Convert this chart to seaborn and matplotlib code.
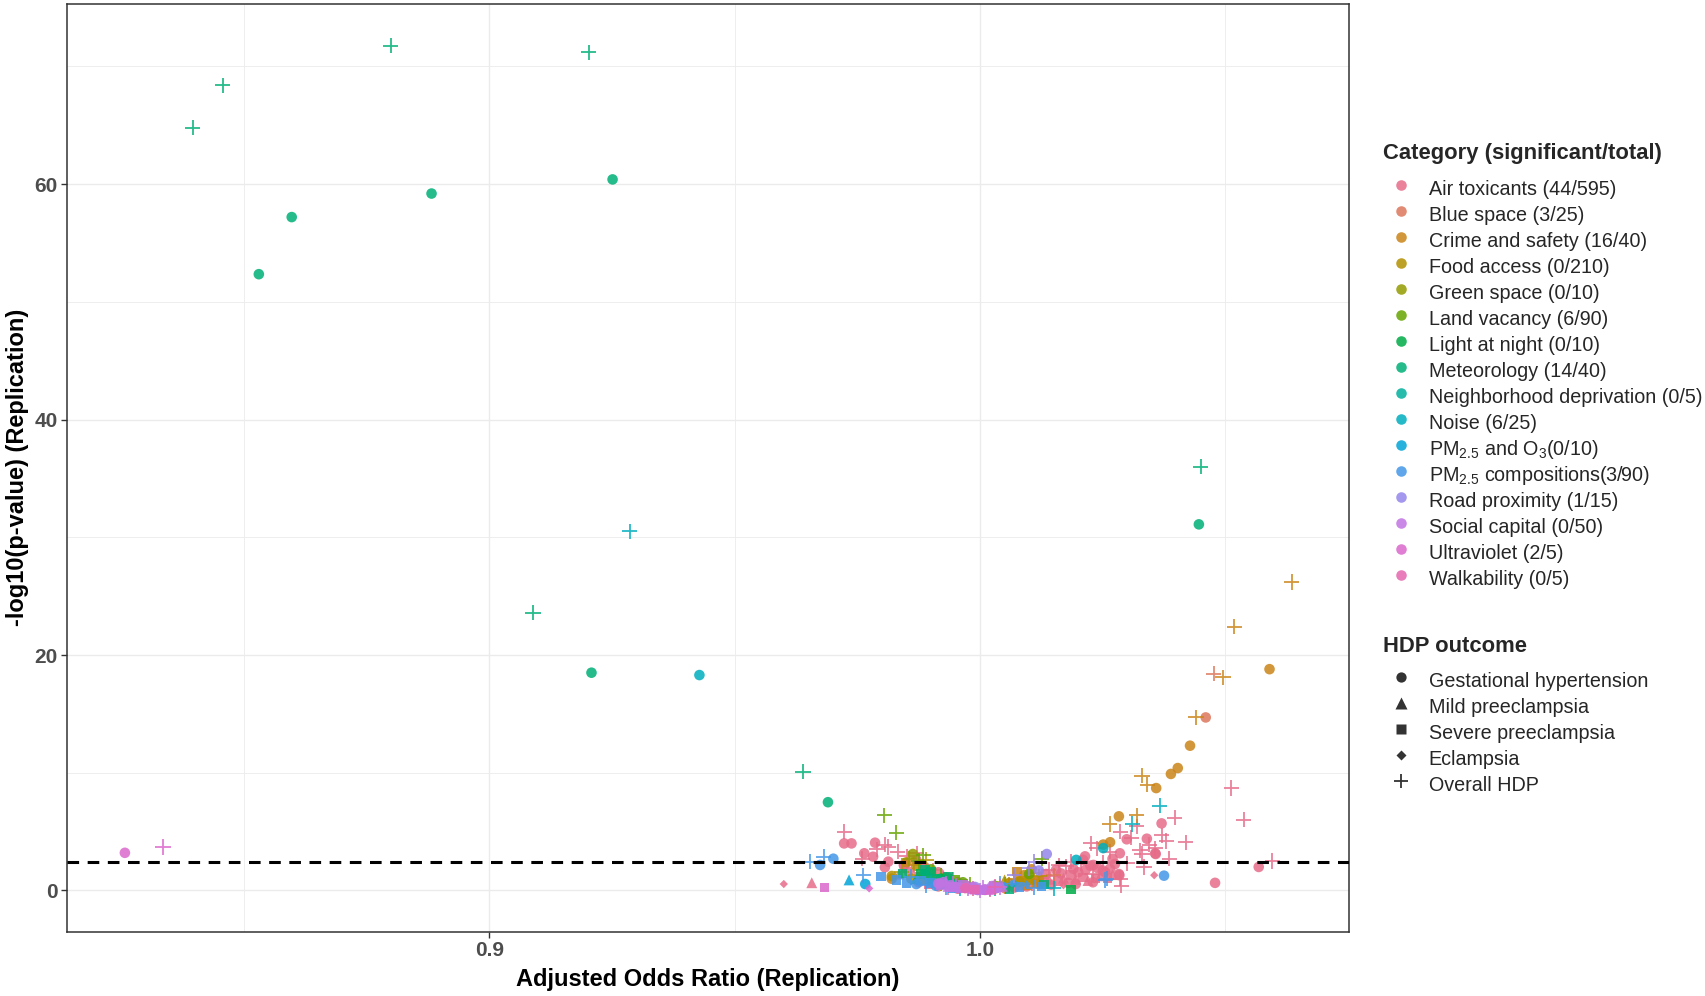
import math
import numpy as np
import pandas as pd
import matplotlib
matplotlib.use("Agg")
import matplotlib.pyplot as plt
import seaborn as sns
from matplotlib.lines import Line2D

# ---------------- data ----------------
categories = [
    "Air toxicants", "Blue space", "Crime and safety", "Food access", "Green space",
    "Land vacancy", "Light at night", "Meteorology", "Neighborhood deprivation", "Noise",
    "PM2.5 and O3", "PM2.5 compositions", "Road proximity", "Social capital",
    "Ultraviolet", "Walkability",
]
category_labels = [
    "Air toxicants (44/595)", "Blue space (3/25)", "Crime and safety (16/40)",
    "Food access (0/210)", "Green space (0/10)", "Land vacancy (6/90)",
    "Light at night (0/10)", "Meteorology (14/40)", "Neighborhood deprivation (0/5)",
    "Noise (6/25)", "PM$_{2.5}$ and O$_3$(0/10)", "PM$_{2.5}$ compositions(3/90)",
    "Road proximity (1/15)", "Social capital (0/50)", "Ultraviolet (2/5)",
    "Walkability (0/5)",
]
outcome_codes = ["G", "M", "S", "E", "O"]
outcome_labels = ["Gestational hypertension", "Mild preeclampsia", "Severe preeclampsia",
                  "Eclampsia", "Overall HDP"]
threshold = 2.42

air_toxicants = [
    (1.0512, 8.7, "O"), (1.0537, 6.0, "O"), (1.0397, 6.2, "O"), (1.0370, 5.7, "G"),
    (1.0370, 4.7, "O"), (1.0319, 5.45, "O"), (1.0286, 5.0, "O"), (1.0308, 4.5, "O"),
    (1.0226, 4.0, "O"), (1.0264, 3.3, "O"), (1.0330, 3.1, "O"), (1.0357, 3.6, "O"),
    (1.0386, 2.7, "O"), (1.0419, 4.1, "O"), (1.0299, 4.35, "G"), (1.0340, 4.4, "G"),
    (1.0358, 3.1, "G"), (1.0568, 2.0, "G"), (1.0596, 2.5, "O"), (1.0479, 0.65, "G"),
    (1.0355, 1.3, "E"), (1.0283, 1.4, "G"), (1.0288, 0.4, "O"), (1.0286, 1.0, "O"),
    (1.0334, 2.0, "O"), (1.0250, 1.7, "G"), (1.0214, 2.9, "G"), (1.0231, 2.17, "G"),
    (1.0238, 3.6, "O"), (1.0285, 3.16, "G"), (1.0284, 1.3, "G"), (1.0326, 3.4, "O"),
    (1.0357, 3.16, "G"), (1.0300, 2.3, "O"), (1.0270, 2.7, "G"), (1.0345, 3.9, "O"),
    (1.0380, 4.2, "O"),
    (0.9723, 5.0, "O"), (0.9723, 4.0, "G"), (0.9738, 4.0, "G"), (0.9786, 4.06, "G"),
    (0.9806, 3.9, "O"), (0.9764, 3.16, "G"), (0.9782, 2.87, "G"), (0.9832, 3.3, "O"),
    (0.9851, 2.9, "O"), (0.9806, 1.97, "G"), (0.9813, 2.45, "G"), (0.9657, 0.66, "M"),
    (0.9600, 0.55, "E"), (0.9887, 2.0, "G"), (0.9813, 3.7, "O"), (0.9871, 3.16, "O"),
    (0.9790, 3.5, "O"), (0.9760, 2.7, "O"), (0.9845, 2.2, "G"), (0.9870, 2.6, "G"),
    (1.0120, 0.55, "G"), (1.0125, 1.05, "O"), (1.0130, 0.75, "S"), (1.0135, 1.40, "G"),
    (1.0140, 0.95, "M"), (1.0145, 0.50, "G"), (1.0150, 1.20, "O"), (1.0155, 1.75, "G"),
    (1.0160, 0.80, "S"), (1.0165, 1.45, "G"), (1.0170, 1.05, "M"), (1.0175, 2.05, "O"),
    (1.0180, 0.65, "G"), (1.0185, 1.30, "S"), (1.0190, 1.85, "G"), (1.0195, 0.95, "M"),
    (1.0200, 1.55, "G"), (1.0205, 2.30, "O"), (1.0210, 1.10, "S"), (1.0215, 1.75, "G"),
    (1.0220, 0.85, "M"), (1.0225, 2.10, "G"), (1.0230, 1.40, "O"), (1.0235, 1.00, "S"),
    (1.0240, 1.90, "G"), (1.0245, 1.25, "M"), (1.0250, 2.35, "O"), (1.0255, 1.55, "G"),
    (1.0260, 1.05, "S"), (1.0265, 1.85, "G"), (1.0270, 1.35, "M"), (1.0275, 2.25, "G"),
    (1.0140, 1.75, "O"), (1.0160, 2.15, "O"), (1.0185, 2.45, "O"), (1.0210, 2.60, "G"),
    (1.0230, 0.70, "G"), (1.0170, 0.45, "E"), (1.0195, 0.55, "G"), (1.0105, 0.60, "O"),
    (1.0095, 0.35, "G"), (1.0080, 0.45, "M"), (1.0070, 0.25, "G"), (1.0060, 0.40, "O"),
    (1.0050, 0.20, "G"), (1.0040, 0.30, "S"), (1.0030, 0.15, "G"), (1.0020, 0.10, "O"),
    (1.0010, 0.05, "G"),
    (0.9995, 0.05, "G"), (0.9985, 0.20, "O"), (0.9975, 0.35, "G"), (0.9965, 0.55, "S"),
    (0.9955, 0.70, "G"), (0.9945, 0.95, "O"), (0.9935, 1.10, "G"), (0.9925, 1.30, "M"),
    (0.9915, 1.55, "G"), (0.9905, 1.70, "O"), (0.9895, 1.45, "G"), (0.9885, 1.95, "G"),
    (0.9875, 1.20, "S"), (0.9865, 2.20, "O"), (0.9855, 1.60, "G"), (0.9845, 2.10, "G"),
    (0.9835, 1.40, "M"), (0.9915, 0.35, "G"), (0.9935, 0.25, "O"), (0.9955, 0.15, "G"),
    (0.9895, 0.55, "S"), (0.9875, 0.70, "G"),
]
blue_space = [
    (1.0476, 18.4, "O"), (1.0460, 14.7, "G"), (1.0080, 0.70, "G"), (0.9940, 0.50, "O"),
    (1.0120, 1.00, "M"), (0.9900, 1.10, "S"), (1.0150, 1.30, "O"),
]
crime_safety = [
    (1.0635, 26.2, "O"), (1.0518, 22.4, "O"), (1.0590, 18.8, "G"), (1.0495, 18.1, "O"),
    (1.0440, 14.7, "O"), (1.0428, 12.3, "G"), (1.0403, 10.4, "G"), (1.0389, 9.9, "G"),
    (1.0330, 9.75, "O"), (1.0341, 9.0, "O"), (1.0359, 8.7, "G"), (1.0283, 6.3, "G"),
    (1.0319, 6.4, "O"), (1.0264, 5.65, "O"), (1.0251, 3.9, "G"), (1.0265, 4.1, "G"),
    (1.0060, 0.60, "G"), (1.0070, 1.00, "O"), (1.0080, 0.80, "S"), (1.0090, 1.30, "G"),
    (1.0100, 1.10, "M"), (1.0110, 1.50, "O"), (1.0120, 0.90, "G"), (1.0075, 1.60, "S"),
    (1.0095, 0.50, "M"), (1.0105, 1.80, "G"), (0.9850, 2.40, "G"), (0.9820, 1.00, "G"),
    (1.0050, 0.35, "O"), (1.0115, 0.60, "S"),
]
food_access = [
    (0.9820, 1.23, "G"), (0.9840, 1.60, "O"), (0.9860, 1.00, "G"), (0.9880, 0.90, "S"),
    (0.9900, 0.80, "G"), (0.9920, 0.60, "O"), (0.9960, 0.30, "G"), (1.0040, 0.35, "G"),
    (1.0060, 0.50, "O"), (1.0080, 0.75, "G"), (1.0100, 0.90, "S"), (1.0120, 1.20, "O"),
    (1.0050, 0.90, "M"), (0.9870, 2.10, "G"), (0.9890, 2.60, "O"),
]
green_space = [
    (0.9863, 3.1, "G"), (0.9855, 2.7, "O"), (0.9900, 1.5, "G"), (1.0050, 0.5, "O"),
]
land_vacancy = [
    (0.9805, 6.4, "O"), (0.9829, 4.9, "O"), (0.9884, 3.0, "O"), (0.9875, 2.5, "O"),
    (1.0126, 2.7, "O"), (0.9900, 1.8, "G"), (0.9920, 1.3, "O"), (0.9930, 1.1, "G"),
    (0.9950, 0.9, "S"), (0.9965, 0.7, "G"), (0.9980, 0.5, "O"), (1.0030, 0.4, "G"),
    (1.0100, 1.4, "G"),
]
light_at_night = [
    (0.9880, 1.4, "S"), (0.9920, 1.0, "G"), (1.0185, 0.1, "S"), (0.9940, 0.7, "O"),
]
meteorology = [
    (0.8395, 64.8, "O"), (0.8456, 68.4, "O"), (0.8799, 71.75, "O"), (0.9202, 71.2, "O"),
    (0.9089, 23.6, "O"), (0.9639, 10.1, "O"), (1.0450, 36.0, "O"),
    (0.8530, 52.35, "G"), (0.8597, 57.2, "G"), (0.8882, 59.2, "G"), (0.9251, 60.4, "G"),
    (0.9208, 18.5, "G"), (0.9690, 7.5, "G"), (1.0446, 31.1, "G"),
    (0.9842, 1.46, "S"), (0.9888, 1.74, "S"), (0.9900, 1.60, "S"), (0.9910, 1.04, "S"),
    (0.9870, 1.00, "M"), (0.9890, 1.30, "G"), (0.9925, 0.90, "M"), (0.9940, 0.60, "S"),
    (0.9935, 1.20, "S"), (0.9960, 0.50, "M"), (1.0130, 0.50, "S"), (1.0060, 0.10, "S"),
]
neighborhood_deprivation = [
    (0.9950, 0.4, "G"), (1.0030, 0.2, "O"), (0.9900, 0.9, "M"),
]
noise = [
    (0.9286, 30.5, "O"), (0.9428, 18.3, "G"), (1.0366, 7.2, "O"), (1.0310, 5.65, "O"),
    (1.0196, 2.6, "G"), (1.0251, 3.6, "G"), (0.9930, 0.5, "S"), (1.0070, 0.6, "E"),
    (1.0150, 0.2, "O"),
]
pm25_o3 = [
    (0.9733, 0.9, "M"), (0.9766, 0.55, "G"), (0.9960, 0.2, "O"),
]
pm25_compositions = [
    (0.9653, 2.45, "O"), (0.9674, 2.17, "G"), (0.9681, 2.87, "O"), (0.9701, 2.7, "G"),
    (0.9762, 1.3, "O"), (0.9798, 1.17, "S"), (1.0375, 1.26, "G"), (1.0258, 1.0, "O"),
    (1.0255, 0.9, "O"),
    (0.9830, 0.90, "S"), (0.9850, 0.65, "S"), (0.9860, 1.15, "O"), (0.9870, 0.55, "G"),
    (0.9880, 0.85, "S"), (0.9890, 0.45, "O"), (0.9900, 0.65, "S"), (0.9910, 0.40, "G"),
    (0.9920, 0.55, "S"), (0.9930, 0.30, "O"), (0.9945, 0.20, "S"), (1.0030, 0.15, "S"),
    (1.0050, 0.40, "E"), (1.0065, 0.60, "E"), (1.0080, 0.30, "S"), (1.0095, 0.50, "E"),
    (1.0040, 0.55, "O"), (1.0110, 0.25, "O"), (1.0125, 0.35, "S"),
]
road_proximity = [
    (1.0136, 3.1, "G"), (1.0109, 2.45, "O"), (1.0100, 1.9, "O"), (1.0120, 1.7, "G"),
    (1.0070, 1.3, "O"), (0.9990, 0.3, "G"),
]
social_capital = [
    (0.9915, 0.60, "G"), (0.9920, 0.45, "S"), (0.9930, 0.55, "O"), (0.9935, 0.35, "M"),
    (0.9940, 0.45, "G"), (0.9945, 0.30, "S"), (0.9950, 0.40, "O"), (0.9955, 0.25, "G"),
    (0.9960, 0.30, "M"), (0.9965, 0.20, "S"), (0.9970, 0.25, "G"), (0.9975, 0.15, "O"),
    (0.9980, 0.20, "G"), (0.9985, 0.10, "S"), (0.9990, 0.12, "M"), (0.9995, 0.05, "G"),
    (1.0000, 0.03, "O"), (1.0005, 0.05, "S"), (1.0010, 0.10, "G"), (1.0015, 0.12, "M"),
    (1.0020, 0.15, "O"), (1.0025, 0.20, "G"), (1.0030, 0.22, "S"), (1.0035, 0.28, "G"),
    (1.0040, 0.30, "O"), (1.0045, 0.35, "M"), (0.9925, 0.70, "G"), (0.9945, 0.55, "O"),
    (0.9965, 0.45, "S"), (0.9985, 0.30, "G"), (1.0005, 0.25, "O"), (1.0025, 0.38, "G"),
]
ultraviolet = [
    (0.8257, 3.2, "G"), (0.8335, 3.7, "O"), (0.9683, 0.27, "S"), (0.9774, 0.18, "E"),
    (1.0020, 0.10, "M"),
]
walkability = [
    (0.9970, 0.2, "G"), (1.0030, 0.3, "O"), (0.9990, 0.1, "S"),
]

category_points = [
    air_toxicants, blue_space, crime_safety, food_access, green_space, land_vacancy,
    light_at_night, meteorology, neighborhood_deprivation, noise, pm25_o3,
    pm25_compositions, road_proximity, social_capital, ultraviolet, walkability,
]

# ---------------- style ----------------
def hcl_hex(h, c=100.0, l=65.0):
    xn, yn, zn = 95.047, 100.0, 108.883
    den = xn + 15 * yn + 3 * zn
    un, vn = 4 * xn / den, 9 * yn / den
    hr = math.radians(h)
    u, v = c * math.cos(hr), c * math.sin(hr)
    Y = yn * ((l + 16) / 116) ** 3
    up, vp = u / (13 * l) + un, v / (13 * l) + vn
    X = Y * 9 * up / (4 * vp)
    Z = Y * (12 - 3 * up - 20 * vp) / (4 * vp)
    X, Y, Z = X / 100, Y / 100, Z / 100
    r = 3.2404542 * X - 1.5371385 * Y - 0.4985314 * Z
    g = -0.9692660 * X + 1.8760108 * Y + 0.0415560 * Z
    b = 0.0556434 * X - 0.2040259 * Y + 1.0572252 * Z

    def gam(t):
        t = 12.92 * t if t <= 0.0031308 else 1.055 * t ** (1 / 2.4) - 0.055
        return min(max(t, 0.0), 1.0)
    return matplotlib.colors.to_hex((gam(r), gam(g), gam(b)))

palette = {cat: hcl_hex(i * 360.0 / len(categories), c=82, l=61)
           for i, cat in enumerate(categories)}
markers = {"G": "o", "M": "^", "S": "s", "E": "D", "O": "+"}
sizes = {"G": 58, "M": 62, "S": 46, "E": 18, "O": 120}
ALPHA = 0.85

sns.set_theme(style="white")
plt.rcParams["font.family"] = ["Liberation Sans", "DejaVu Sans"]
plt.rcParams["mathtext.default"] = "regular"

fig = plt.figure(figsize=(17.05, 9.96), dpi=100)
ax = fig.add_axes([67 / 1705, (996 - 931.7) / 996, (1349 - 67) / 1705, (931.7 - 4) / 996])

for cat, pts in zip(categories, category_points):
    df = pd.DataFrame(pts, columns=["aor", "logp", "outcome"])
    df["category"] = cat
    for oc in outcome_codes:
        sub = df[df["outcome"] == oc]
        if sub.empty:
            continue
        if oc == "O":
            sns.scatterplot(data=sub, x="aor", y="logp", hue="category", palette=palette,
                            marker="+", s=sizes[oc], linewidth=1.3, alpha=ALPHA,
                            legend=False, ax=ax, zorder=3)
        else:
            sns.scatterplot(data=sub, x="aor", y="logp", hue="category", palette=palette,
                            marker=markers[oc], s=sizes[oc], linewidth=0, edgecolor="none",
                            alpha=ALPHA, legend=False, ax=ax, zorder=3)

ax.axhline(threshold, color="black", lw=2.2, ls=(0, (3.8, 2.8)), zorder=5)

ax.set_xlim(0.8139, 1.0752)
ax.set_ylim(-3.5, 75.3)
ax.set_xticks([0.9, 1.0])
ax.set_xticklabels(["0.9", "1.0"])
ax.set_yticks([0, 20, 40, 60])
ax.set_xticks([0.85, 0.95, 1.05], minor=True)
ax.set_yticks([10, 30, 50, 70], minor=True)
ax.grid(which="major", color="#EBEBEB", lw=1.0)
ax.grid(which="minor", color="#EBEBEB", lw=0.6)
ax.set_axisbelow(True)
for sp in ax.spines.values():
    sp.set_color("#333333")
    sp.set_linewidth(1.1)
ax.tick_params(which="major", direction="out", length=4.5, width=1.0, color="#333333",
               labelsize=15, labelcolor="#4D4D4D", pad=2, bottom=True, left=True)
ax.tick_params(which="minor", length=0)
for lab in ax.get_xticklabels() + ax.get_yticklabels():
    lab.set_fontweight("bold")

ax.set_xlabel("Adjusted Odds Ratio (Replication)", fontsize=17, fontweight="bold",
              color="black")
ax.set_ylabel("-log10(p-value) (Replication)", fontsize=17, fontweight="bold",
              color="black", labelpad=4)
ax.xaxis.set_label_coords(0.5, -0.0396)

# legends
legend_kw = dict(loc="upper left", frameon=False, fontsize=14.2,
                 title_fontproperties={"weight": "bold", "size": 15.8},
                 alignment="left", borderpad=0, borderaxespad=0, handlelength=1.78,
                 handletextpad=0.53, labelspacing=0.02, handleheight=1.62)

cat_handles = [Line2D([], [], marker="o", ls="", markersize=7.6, markerfacecolor=palette[c],
                      markeredgecolor="none", alpha=ALPHA) for c in categories]
leg1 = fig.legend(cat_handles, category_labels, title="Category (significant/total)",
                  bbox_to_anchor=(1383 / 1705, 1 - 143.2 / 996), **legend_kw)
leg1._legend_box.sep = 8.2

out_ms = {"G": 7.4, "M": 8.0, "S": 6.8, "E": 4.6, "O": 10.5}
out_handles = []
for oc in outcome_codes:
    if oc == "O":
        h = Line2D([], [], marker="+", ls="", markersize=out_ms[oc], markeredgewidth=1.3,
                   color="#333333")
    else:
        h = Line2D([], [], marker=markers[oc], ls="", markersize=out_ms[oc],
                   markerfacecolor="#333333", markeredgecolor="none")
    out_handles.append(h)
leg2 = fig.legend(out_handles, outcome_labels, title="HDP outcome",
                  bbox_to_anchor=(1383 / 1705, 1 - 636.3 / 996), **legend_kw)
leg2._legend_box.sep = 7.4

fig.savefig("out.png", dpi=100)
